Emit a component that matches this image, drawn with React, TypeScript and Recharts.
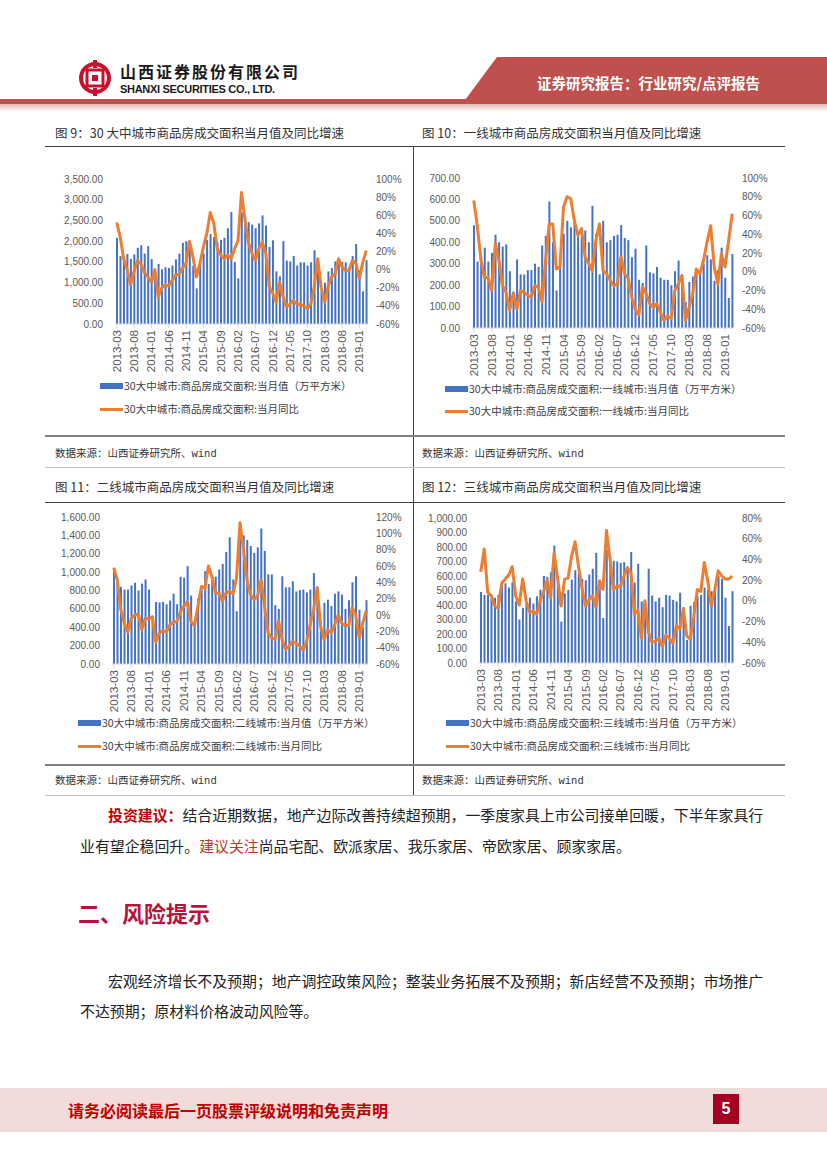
import React from "react"
import { ComposedChart, Bar, Line, XAxis, YAxis } from "recharts"

// months 2013-03 .. 2019-03
const months: string[] = []
for (let y = 2013; y <= 2019; y++) {
  for (let m = 1; m <= 12; m++) {
    if (y === 2013 && m < 3) continue
    if (y === 2019 && m > 3) continue
    months.push(`${y}-${m < 10 ? "0" + m : m}`)
  }
}

// 图9 30大中城市
const totalArea = [
  2080, 1640, 1600, 1690, 1570, 1680, 1840, 1900, 1700, 1880,
  1570, 1150, 1450, 1320, 1370, 1350, 1410, 1560, 1700, 1960,
  2000, 1970, 1400, 860, 1500, 1700, 2030, 2170, 2100, 1970,
  2030, 2080, 2310, 2700, 1500, 1100, 2690, 2600, 2460, 2400,
  2310, 2430, 2620, 2380, 1860, 2020, 1270, 1150, 2000, 1530,
  1510, 1640, 1410, 1490, 1490, 1410, 1490, 1780, 1590, 800,
  1000, 1270, 1350, 1510, 1580, 1500, 1490, 1370, 1640, 1930,
  1300, 790, 1540,
]
const totalYoy = [
  52, 36, 12, 0, -17, -2, 10, 6, -3, -8,
  -14, 0, -30, -20, -17, -18, -12, -6, -5, 2,
  7, 31, 14, -8, 7, 25, 40, 63, 51, 23,
  16, 12, 16, 12, 23, 32, 85, 55, 30, 18,
  10, 23, 30, 18, -19, -26, -36, -14, -30, -41,
  -38, -34, -38, -39, -40, -43, -38, -19, 12, -20,
  -36, -18, -8, -5, 12, 3, -1, -1, 10, 7,
  -10, 8, 21,
]

// 图10 一线城市
const tier1Area = [
  480, 310, 335, 375, 310, 350, 435, 400, 380, 390,
  265, 170, 320, 250, 250, 270, 270, 300, 285, 385,
  430, 590, 400, 175, 300, 440, 500, 470, 490, 430,
  430, 455, 400, 570, 440, 250, 500, 400, 410, 430,
  435, 480, 420, 410, 330, 370, 225, 210, 385, 260,
  255, 285, 235, 225, 225, 200, 265, 315, 225, 120,
  215, 240, 260, 265, 300, 340, 320, 220, 270, 375,
  235, 140, 345,
]
const tier1Yoy = [
  76, 48, 12, -6, -6, -20, 30, 12, -15, -22,
  -41, -23, -40, -20, -22, -25, -27, -15, -16, -32,
  12, 51, 51, 3, 5, 69, 80, 78, 55, 39,
  46, 16, 9, 1, 33, 51, 1, -2, -9, -15,
  -13, 16, -2, -7, -27, -40, -46, -16, -23, -34,
  -38, -34, -43, -52, -47, -50, -20, -13, -4, -52,
  -38, -23, 3, -2, 12, 32, 49, 5, -13, 19,
  5, 33, 62,
]

// 图11 二线城市
const tier2Area = [
  1010, 900, 840, 810, 810, 855, 885, 800, 875, 920,
  810, 500, 675, 670, 675, 650, 690, 765, 650, 950,
  940, 1065, 745, 420, 710, 840, 1010, 870, 975, 950,
  1030, 1090, 1220, 1380, 920, 575, 1500, 1400, 1350, 1285,
  1210, 1270, 1475, 1230, 975, 975, 640, 600, 955, 835,
  835, 900, 790, 805, 810, 780, 810, 990, 845, 450,
  665, 700, 630, 765, 790, 755, 600, 695, 890, 955,
  590, 400, 695,
]
const tier2Yoy = [
  58, 43, 7, -10, -21, -4, 0, 1, -18, -4,
  -5, -2, -33, -22, -19, -21, -12, -9, -8, 4,
  11, 16, -8, -13, 11, 35, 33, 60, 47, 27,
  27, 17, 27, 29, 26, 45, 113, 80, 43, 25,
  19, 23, 43, 11, -22, -28, -30, -7, -30, -42,
  -38, -32, -35, -38, -43, -32, -12, 7, 33, -14,
  -30, -18, -22, -12, 0, -10, -13, -13, 9, 0,
  -28, -10, 5,
]

// 图12 三线城市
const tier3Area = [
  490, 470, 470, 440, 450, 470, 565, 550, 520, 555,
  425, 300, 380, 415, 450, 410, 460, 505, 600, 595,
  625, 810, 550, 285, 480, 505, 575, 640, 615, 580,
  570, 610, 650, 760, 575, 310, 780, 735, 705, 700,
  690, 695, 665, 765, 555, 685, 425, 335, 650, 465,
  425, 450, 385, 470, 465, 435, 425, 485, 385, 160,
  395, 420, 460, 470, 520, 505, 495, 540, 600, 580,
  450, 255, 495,
]
const tier3Yoy = [
  28, 50, 8, 5, -5, -7, 17, 21, 25, 33,
  5, -4, 21, 0, -11, -10, -13, 0, 9, 20,
  3, 46, 22, -5, 21, 22, 43, 57, 33, 12,
  -5, 1, 5, -6, 19, 11, 68, 40, 11, 14,
  14, 24, 32, 27, -13, -9, -36, 0, -30, -40,
  -39, -36, -44, -33, -36, -41, -24, -27, -8, -34,
  -37, -15, 11, 9, 37, 19, -5, 11, 29, 24,
  21, 21, 24,
]

const ticks9L = [0, 500, 1000, 1500, 2000, 2500, 3000, 3500]
const ticks9R = [-60, -40, -20, 0, 20, 40, 60, 80, 100]
const ticks10L = [0, 100, 200, 300, 400, 500, 600, 700]
const ticks10R = [-60, -40, -20, 0, 20, 40, 60, 80, 100]
const ticks11L = [0, 200, 400, 600, 800, 1000, 1200, 1400, 1600]
const ticks11R = [-60, -40, -20, 0, 20, 40, 60, 80, 100, 120]
const ticks12L = [0, 100, 200, 300, 400, 500, 600, 700, 800, 900, 1000]
const ticks12R = [-60, -40, -20, 0, 20, 40, 60, 80]

const BLUE = "#4472C4"
const ORANGE = "#ED7D31"
const AXIS_TEXT = "#595959"
const CJK = "'Noto Sans CJK SC', 'Noto Sans', sans-serif"
const LATIN = "'Liberation Sans', Arial, sans-serif"

const fmtNum = (v: number) =>
  v.toLocaleString("en-US", { minimumFractionDigits: 2, maximumFractionDigits: 2 })

function MonthTick(props: any) {
  const { x, y, payload } = props
  return (
    <text
      x={x}
      y={y}
      transform={`rotate(-90 ${x} ${y})`}
      textAnchor="end"
      dy="0.35em"
      fontSize={11.5}
      fontFamily={LATIN}
      fill={AXIS_TEXT}
    >
      {payload.value}
    </text>
  )
}

interface BlockProps {
  left: number
  top: number
  width: number
  height: number
  marginTop: number
  leftWidth: number
  rightWidth: number
  bars: number[]
  yoy: number[]
  leftTicks: number[]
  rightTicks: number[]
}

function ChartBlock(p: BlockProps) {
  const data = months.map((m, i) => ({ month: m, value: p.bars[i], yoy: p.yoy[i] }))
  const tickStyle = { fontSize: 10, fontFamily: LATIN, fill: AXIS_TEXT }
  return (
    <div style={{ position: "absolute", left: p.left, top: p.top }}>
      <ComposedChart
        width={p.width}
        height={p.height}
        data={data}
        margin={{ top: p.marginTop, right: 7, left: 0, bottom: 0 }}
        barCategoryGap={1}
      >
        <XAxis
          dataKey="month"
          interval={4}
          height={56}
          tick={<MonthTick />}
          tickSize={4}
          tickMargin={2}
          axisLine={{ stroke: "#D9D9D9" }}
          tickLine={{ stroke: "#D9D9D9" }}
        />
        <YAxis
          yAxisId="left"
          width={p.leftWidth}
          domain={[p.leftTicks[0], p.leftTicks[p.leftTicks.length - 1]]}
          ticks={p.leftTicks}
          tickFormatter={fmtNum}
          axisLine={false}
          tickLine={false}
          tickSize={0}
          tickMargin={12}
          tick={tickStyle}
          interval={0}
        />
        <YAxis
          yAxisId="right"
          orientation="right"
          width={p.rightWidth}
          domain={[p.rightTicks[0], p.rightTicks[p.rightTicks.length - 1]]}
          ticks={p.rightTicks}
          tickFormatter={(v: number) => `${v}%`}
          axisLine={false}
          tickLine={false}
          tickSize={0}
          tickMargin={8}
          tick={tickStyle}
          interval={0}
        />
        <Bar yAxisId="left" dataKey="value" fill={BLUE} barSize={2} isAnimationActive={false} />
        <Line
          yAxisId="right"
          dataKey="yoy"
          stroke={ORANGE}
          strokeWidth={3}
          dot={false}
          type="linear"
          strokeLinejoin="round"
          isAnimationActive={false}
        />
      </ComposedChart>
    </div>
  )
}

function T(props: {
  x: number
  y: number
  size: number
  color?: string
  bold?: boolean
  family?: string
  children: React.ReactNode
}) {
  const lh = Math.round(props.size * 1.3)
  return (
    <div
      style={{
        position: "absolute",
        left: props.x,
        top: props.y - lh / 2,
        fontSize: props.size,
        lineHeight: `${lh}px`,
        color: props.color || "#333",
        fontWeight: props.bold ? 700 : 400,
        fontFamily: props.family || CJK,
        whiteSpace: "nowrap",
      }}
    >
      {props.children}
    </div>
  )
}

function LegendRows(props: { x: number; y1: number; y2: number; barLabel: string; lineLabel: string }) {
  return (
    <>
      <div style={{ position: "absolute", left: props.x, top: props.y1 - 3, width: 23, height: 6, background: BLUE }} />
      <T x={props.x + 24} y={props.y1} size={10.5} color="#404040">{props.barLabel}</T>
      <div style={{ position: "absolute", left: props.x, top: props.y2 - 1.5, width: 23, height: 3, background: ORANGE }} />
      <T x={props.x + 24} y={props.y2} size={10.5} color="#404040">{props.lineLabel}</T>
    </>
  )
}

function Source(props: { x: number; y: number }) {
  return (
    <T x={props.x} y={props.y} size={10.5} color="#333">
      数据来源：山西证券研究所、<span style={{ fontFamily: "'Liberation Mono', monospace" }}>wind</span>
    </T>
  )
}

function HLine(props: { y: number; h: number; color: string }) {
  return (
    <div style={{ position: "absolute", left: 45, top: props.y, width: 740, height: props.h, background: props.color }} />
  )
}

export default function App() {
  return (
    <div
      style={{
        position: "absolute",
        left: 0,
        top: 0,
        width: 827,
        height: 1169,
        background: "#fff",
        overflow: "hidden",
        fontFamily: CJK,
      }}
    >
      {/* header */}
      <svg width={827} height={115} style={{ position: "absolute", left: 0, top: 0 }}>
        <defs>
          <linearGradient id="pinkfade" x1="0" y1="0" x2="0" y2="1">
            <stop offset="0" stopColor="#E6B9B8" />
            <stop offset="1" stopColor="#FFFFFF" />
          </linearGradient>
        </defs>
        <polygon points="497,57 827,57 827,100 465,100" fill="#C0504D" />
        <rect x={0} y={99} width={827} height={5} fill="#C0504D" />
        <rect x={0} y={104} width={827} height={8} fill="url(#pinkfade)" />
        <circle cx={95} cy={78} r={14} fill="none" stroke="#C8102E" strokeWidth={4} />
        <rect x={87} y={70} width={16} height={16} fill="#fff" stroke="#C8102E" strokeWidth={3} />
        <rect x={92} y={75} width={6} height={6} fill="#C8102E" />
        <rect x={93} y={60} width={4} height={8} fill="#C8102E" />
        <rect x={93} y={88} width={4} height={8} fill="#C8102E" />
      </svg>
      <T x={120} y={71} size={16} bold color="#1a1a1a">
        <span style={{ letterSpacing: 2 }}>山西证券股份有限公司</span>
      </T>
      <T x={120} y={89} size={11} bold color="#1a1a1a" family={LATIN}>
        <span style={{ letterSpacing: -0.3 }}>SHANXI SECURITIES CO., LTD.</span>
      </T>
      <T x={537} y={82} size={14.5} bold color="#fff">
        证券研究报告：行业研究/点评报告
      </T>

      {/* titles row 1 */}
      <T x={55} y={133} size={12.5} color="#333">图 9：30 大中城市商品房成交面积当月值及同比增速</T>
      <T x={422} y={133} size={12.5} color="#333">图 10：一线城市商品房成交面积当月值及同比增速</T>
      <HLine y={146} h={1} color="#404040" />
      <div style={{ position: "absolute", left: 413, top: 146, width: 1, height: 650, background: "#404040" }} />

      <ChartBlock
        left={45} top={160} width={370} height={220} marginTop={19}
        leftWidth={70} rightWidth={40}
        bars={totalArea} yoy={totalYoy} leftTicks={ticks9L} rightTicks={ticks9R}
      />
      <ChartBlock
        left={415} top={160} width={370} height={224} marginTop={18}
        leftWidth={57} rightWidth={44}
        bars={tier1Area} yoy={tier1Yoy} leftTicks={ticks10L} rightTicks={ticks10R}
      />
      <LegendRows
        x={100} y1={386} y2={409}
        barLabel="30大中城市:商品房成交面积:当月值（万平方米）"
        lineLabel="30大中城市:商品房成交面积:当月同比"
      />
      <LegendRows
        x={445} y1={389} y2={411}
        barLabel="30大中城市:商品房成交面积:一线城市:当月值（万平方米）"
        lineLabel="30大中城市:商品房成交面积:一线城市:当月同比"
      />

      <HLine y={435} h={2} color="#808080" />
      <Source x={55} y={453} />
      <Source x={422} y={453} />
      <HLine y={467} h={1} color="#BFBFBF" />

      {/* titles row 2 */}
      <T x={55} y={487} size={12.5} color="#333">图 11：二线城市商品房成交面积当月值及同比增速</T>
      <T x={422} y={487} size={12.5} color="#333">图 12：三线城市商品房成交面积当月值及同比增速</T>
      <HLine y={502} h={1} color="#404040" />

      <ChartBlock
        left={45} top={500} width={370} height={220} marginTop={17}
        leftWidth={67} rightWidth={40}
        bars={tier2Area} yoy={tier2Yoy} leftTicks={ticks11L} rightTicks={ticks11R}
      />
      <ChartBlock
        left={415} top={500} width={370} height={219} marginTop={18}
        leftWidth={64} rightWidth={44}
        bars={tier3Area} yoy={tier3Yoy} leftTicks={ticks12L} rightTicks={ticks12R}
      />
      <LegendRows
        x={78} y1={723} y2={746}
        barLabel="30大中城市:商品房成交面积:二线城市:当月值（万平方米）"
        lineLabel="30大中城市:商品房成交面积:二线城市:当月同比"
      />
      <LegendRows
        x={446} y1={723} y2={746}
        barLabel="30大中城市:商品房成交面积:三线城市:当月值（万平方米）"
        lineLabel="30大中城市:商品房成交面积:三线城市:当月同比"
      />

      <HLine y={764} h={2} color="#808080" />
      <Source x={55} y={780} />
      <Source x={422} y={780} />
      <HLine y={795} h={1} color="#BFBFBF" />

      {/* body text */}
      <T x={108} y={814} size={14.9} color="#222">
        <span style={{ color: "#C00000", fontWeight: 700 }}>投资建议：</span>
        结合近期数据，地产边际改善持续超预期，一季度家具上市公司接单回暖，下半年家具行
      </T>
      <T x={80} y={845} size={14.9} color="#222">
        业有望企稳回升。<span style={{ color: "#C0392B" }}>建议关注</span>尚品宅配、欧派家居、我乐家居、帝欧家居、顾家家居。
      </T>

      <T x={78} y={912} size={22} bold color="#B8123A">二、风险提示</T>

      <T x={108} y={980} size={14.9} color="#222">
        宏观经济增长不及预期；地产调控政策风险；整装业务拓展不及预期；新店经营不及预期；市场推广
      </T>
      <T x={80} y={1010} size={14.9} color="#222">
        不达预期；原材料价格波动风险等。
      </T>

      {/* footer */}
      <div style={{ position: "absolute", left: 0, top: 1088, width: 827, height: 44, background: "#F2DCDB" }} />
      <T x={68} y={1110} size={16} bold color="#C00000">请务必阅读最后一页股票评级说明和免责声明</T>
      <div
        style={{
          position: "absolute",
          left: 713,
          top: 1094,
          width: 26,
          height: 30,
          background: "#A50021",
          color: "#fff",
          fontWeight: 700,
          fontSize: 16,
          fontFamily: LATIN,
          lineHeight: "30px",
          textAlign: "center",
        }}
      >
        5
      </div>
    </div>
  )
}
